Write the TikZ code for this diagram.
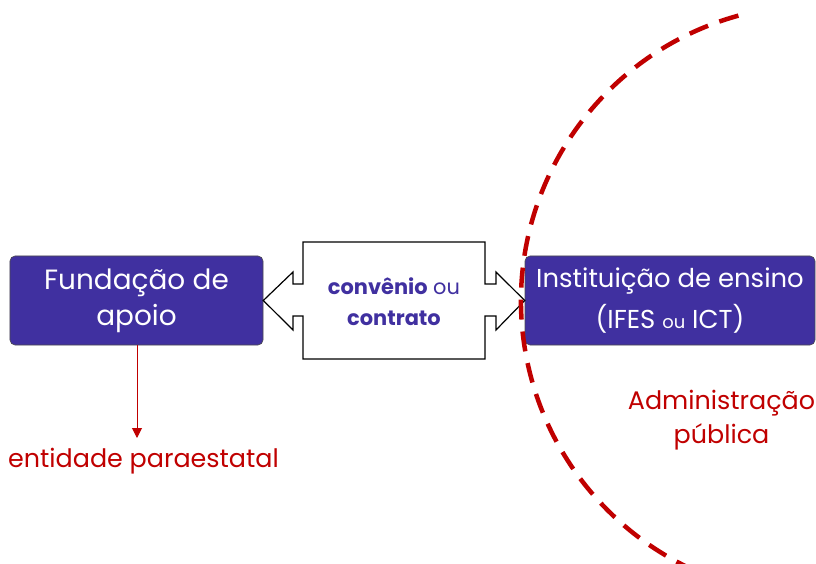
\documentclass[tikz,border=0pt]{standalone}
\usepackage{fontspec}
\setmainfont{Poppins}
\usetikzlibrary{arrows.meta}
\definecolor{boxblue}{HTML}{4030A0}
\definecolor{darkred}{HTML}{C00000}
\tikzset{
  bluebox/.style={draw=black!70, line width=0.6bp, fill=boxblue, rounded corners=5bp, text=white, align=center, inner sep=0pt},
  redlabel/.style={text=darkred, align=center, inner sep=0pt, font=\fontsize{25.5}{34}\selectfont},
  arrowshape/.style={draw=black, line width=1.2bp, fill=white, line join=miter},
}
\begin{document}
\begin{tikzpicture}[x=1bp,y=-1bp]
\useasboundingbox (0,0) rectangle (816,564);
% boxes
\node[bluebox, minimum width=253bp, minimum height=89bp, font=\fontsize{28}{36}\selectfont] (lbox) at (136.5,300.5) {Fundação de\\apoio};
\node[bluebox, minimum width=290bp, minimum height=89bp, font=\fontsize{26}{42}\selectfont] (rbox) at (670,300.5) {Instituição de ensino\\(IFES {\fontsize{18}{20}\selectfont ou} ICT)};
% double arrow
\draw[arrowshape] (lbox.east) -- (293,272) -- (293,284) -- (303,284) -- (303,242) -- (485,242) -- (485,284) -- (496,284) -- (496,272) -- (rbox.west) -- (496,330) -- (496,316) -- (485,316) -- (485,359) -- (303,359) -- (303,316) -- (293,316) -- (293,330) -- cycle;
\node[text=boxblue, align=center, inner sep=0pt, font=\fontsize{21}{31}\selectfont] (deal) at (394,302) {\textbf{convênio} ou\\\textbf{contrato}};
% red label and arrow
\node[redlabel] (ent) at (143.5,461) {entidade paraestatal};
\coordinate (enttop) at (137,438);
\draw[darkred, line width=1bp, -{Triangle[width=10bp,length=10bp]}] (lbox.south -| enttop) -- (enttop);
\node[redlabel] (adm) at (721.5,420) {Administração\\pública};
% dashed circle
\begin{scope}
\clip (0,0) rectangle (816,564);
\draw[darkred, line width=4.5bp, dash pattern=on 20bp off 12bp] (817,301) ++(-105.4:296) arc[start angle=-105.4, end angle=-250, radius=296];
\end{scope}
\end{tikzpicture}
\end{document}
